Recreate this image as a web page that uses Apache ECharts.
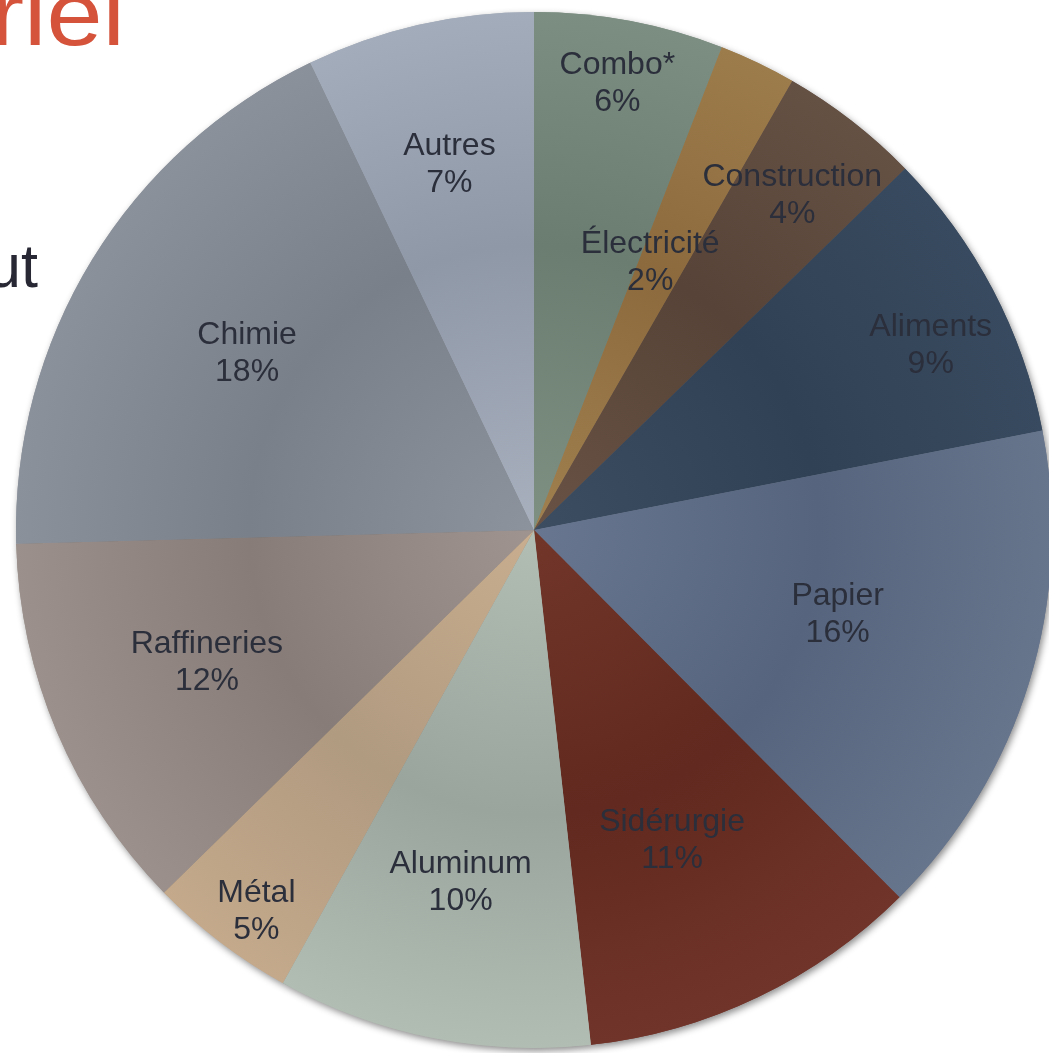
<!DOCTYPE html>
<html>
<head>
<meta charset="utf-8">
<script src="https://cdn.jsdelivr.net/npm/echarts@6/dist/echarts.min.js"></script>
<style>
  html, body { margin: 0; padding: 0; background: #ffffff; }
  #chart { width: 1049px; height: 1053px; }
</style>
</head>
<body>
<div id="chart"></div>
<script>
// ---- data ----
const categories = ['Combo*', 'Électricité', 'Construction', 'Aliments', 'Papier', 'Sidérurgie', 'Aluminum', 'Métal', 'Raffineries', 'Chimie', 'Autres'];
const shares = [5.9, 2.4, 4.4, 9.2, 15.6, 10.7, 9.8, 4.6, 11.9, 18.3, 7.1];
const titleFragment = 'riel';
const bodyFragment = 'ut';

// ---- style ----
const CX = 534, CY = 530, R = 518;
// [near centre, middle, rim]
const sliceColors = [
  ['#7d9082', '#6a7d70', '#7b8e81'],
  ['#a0804f', '#8d6a3d', '#9d7c4b'],
  ['#685245', '#574337', '#655044'],
  ['#3c4d61', '#314155', '#384a5f'],
  ['#687690', '#56657d', '#66748c'],
  ['#723629', '#61291f', '#71342a'],
  ['#b2bdb3', '#9aa59e', '#b1bcb2'],
  ['#c9ae8f', '#b09a80', '#c4a98b'],
  ['#9f948f', '#877c78', '#9b908b'],
  ['#8d939c', '#7a8089', '#8b919b'],
  ['#a8b0be', '#8f98a7', '#a3acba']
];
// label placement: fraction of radius along the slice's mid-angle, plus a small nudge
const labelRadius = [0.883, 0.571, 0.819, 0.844, 0.606, 0.650, 0.692, 0.909, 0.678, 0.653, 0.729];
const labelNudge = [[-2, 8], [-13, 3], [-5, 5], [5, 21], [0, -8], [-9, 3], [-2, -3], [11, 3], [0, -6], [5, 2], [0, 7]];

function grad(c) {
  return {
    type: 'radial', x: CX, y: CY, r: R, global: true,
    colorStops: [
      { offset: 0, color: c[0] },
      { offset: 0.55, color: c[1] },
      { offset: 1, color: c[2] }
    ]
  };
}

const pieData = categories.map((name, i) => ({
  name: name,
  value: shares[i],
  itemStyle: { color: grad(sliceColors[i]) }
}));

const chart = echarts.init(document.getElementById('chart'), null, { renderer: 'canvas' });

chart.setOption({
  animation: false,
  backgroundColor: '#ffffff',
  graphic: [
    {
      type: 'text', x: -9.5, y: 20.5, scaleX: 1.12, silent: true,
      style: {
        text: titleFragment, fill: '#d5533b',
        fontSize: 90, fontFamily: '"Liberation Sans", Arial, sans-serif',
        align: 'left', verticalAlign: 'middle'
      }
    },
    {
      type: 'text', x: -13, y: 270, silent: true,
      style: {
        text: bodyFragment, fill: '#272834',
        fontSize: 61, fontFamily: '"Liberation Sans", Arial, sans-serif',
        align: 'left', verticalAlign: 'middle'
      }
    }
  ],
  series: [
    {
      // shadow layer under the pie
      type: 'pie',
      silent: true,
      z: 1,
      center: [CX, CY],
      radius: R,
      startAngle: 90,
      clockwise: true,
      label: { show: false },
      labelLine: { show: false },
      itemStyle: {
        shadowBlur: 7,
        shadowOffsetX: 2,
        shadowOffsetY: 3,
        shadowColor: 'rgba(0,0,0,0.45)'
      },
      data: pieData
    },
    {
      type: 'pie',
      z: 2,
      center: [CX, CY],
      radius: R,
      startAngle: 90,
      clockwise: true,
      percentPrecision: 0,
      itemStyle: { borderWidth: 0 },
      emphasis: { disabled: true },
      label: {
        show: true,
        position: 'inside',
        formatter: '{b}\n{d}%',
        color: '#2b2e3b',
        fontSize: 32,
        lineHeight: 37,
        fontFamily: '"Liberation Sans", Arial, sans-serif'
      },
      labelLine: { show: false },
      labelLayout: function (params) {
        const rect = params.labelRect;
        const lx = rect.x + rect.width / 2;
        const ly = rect.y + rect.height / 2;
        const i = params.dataIndex;
        const k = labelRadius[i] / 0.5;
        return {
          x: CX + (lx - CX) * k + labelNudge[i][0],
          y: CY + (ly - CY) * k + labelNudge[i][1]
        };
      },
      data: pieData
    }
  ]
});
</script>
</body>
</html>
